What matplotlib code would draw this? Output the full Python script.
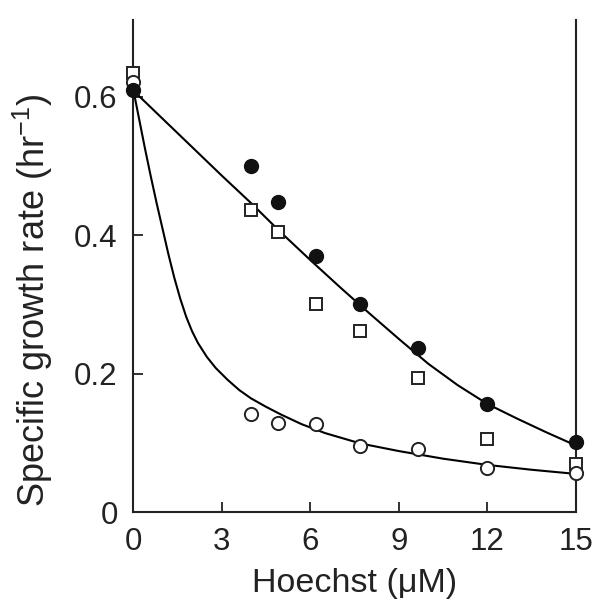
import matplotlib
matplotlib.use("Agg")
import matplotlib.pyplot as plt

plt.rcParams['font.family'] = ['Liberation Sans', 'DejaVu Sans']
plt.rcParams['mathtext.fontset'] = 'custom'
plt.rcParams['mathtext.rm'] = 'Liberation Sans'
plt.rcParams['mathtext.it'] = 'Liberation Sans:italic'

# datos
x_pts = [0, 4.0, 4.9, 6.2, 7.7, 9.65, 12.0, 15.0]
y_filled = [0.609, 0.499, 0.447, 0.369, 0.300, 0.237, 0.156, 0.101]
y_square = [0.634, 0.436, 0.404, 0.301, 0.262, 0.193, 0.106, 0.070]
y_open = [0.621, 0.142, 0.128, 0.127, 0.096, 0.091, 0.063, 0.056]

# curvas ajustadas (leidas punto a punto)
x_upper = [0, 1, 2, 3, 4, 5, 6, 7, 8, 9, 10, 11, 12, 13, 14, 15]
y_upper = [0.609, 0.568, 0.527, 0.486, 0.446, 0.404, 0.364, 0.325, 0.287,
           0.250, 0.214, 0.183, 0.156, 0.135, 0.115, 0.096]
x_lower = [0, 0.2, 0.4, 0.6, 0.8, 1.0, 1.2, 1.4, 1.6, 1.8, 2.0, 2.2, 2.5,
           2.8, 3.2, 3.6, 4.0, 4.5, 5.0, 5.7, 6.5, 7.7, 9.0, 10.5, 12,
           13.5, 15]
y_lower = [0.612, 0.569, 0.526, 0.485, 0.446, 0.409, 0.372, 0.338, 0.308,
           0.282, 0.261, 0.244, 0.224, 0.208, 0.191, 0.176, 0.164, 0.152,
           0.141, 0.127, 0.114, 0.099, 0.088, 0.077, 0.068, 0.061, 0.055]

xticks = [0, 3, 6, 9, 12, 15]
yticks = [0, 0.2, 0.4, 0.6]

fig = plt.figure(figsize=(5.97, 6.07), dpi=100)
ax = fig.add_axes([0.2228, 0.1565, 0.742, 0.81])

ax.plot(x_upper, y_upper, color='black', lw=1.5, zorder=2)
ax.plot(x_lower, y_lower, color='black', lw=1.5, zorder=2)

ax.plot(x_pts, y_square, linestyle='none', marker='s', ms=8.5, mfc='white',
        mec='#222222', mew=1.4, clip_on=False, zorder=3)
ax.plot(x_pts, y_open, linestyle='none', marker='o', ms=9.5, mfc='white',
        mec='#222222', mew=1.4, clip_on=False, zorder=4)
ax.plot(x_pts, y_filled, linestyle='none', marker='o', ms=10, mfc='#111111',
        mec='#111111', clip_on=False, zorder=5)

ax.set_xlim(0, 15)
ax.set_ylim(0, 0.71)
ax.set_xticks(xticks)
ax.set_xticklabels([str(t) for t in xticks])
ax.set_yticks(yticks)
ax.set_yticklabels(['0', '0.2', '0.4', '0.6'])

ax.spines['top'].set_visible(False)
for s in ['left', 'bottom', 'right']:
    ax.spines[s].set_linewidth(1.5)
    ax.spines[s].set_color('#222222')

ax.tick_params(axis='both', direction='in', length=7, width=1.3,
               labelsize=22.5, pad=11, colors='#222222')
ax.tick_params(axis='x', top=False)
ax.tick_params(axis='y', right=False)

ax.set_xlabel(u'Hoechst (\u03bcM)', fontsize=24.5, color='#222222', labelpad=8)
ax.set_ylabel(r'Specific growth rate (hr$^{\mathregular{-1}}$)', fontsize=26,
              color='#222222')
ax.yaxis.set_label_coords(-0.175, 0.43)

fig.savefig('out.png', dpi=100)
